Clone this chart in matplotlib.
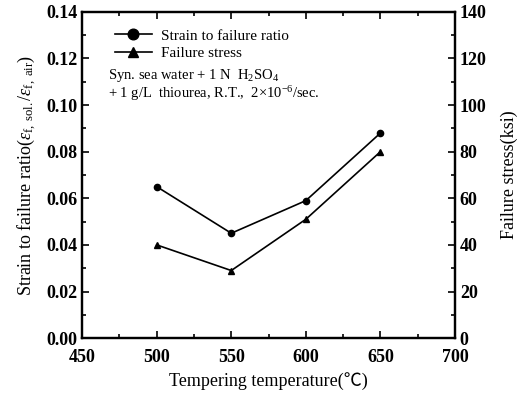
import matplotlib
matplotlib.use('Agg')
import matplotlib.pyplot as plt
from matplotlib.ticker import MultipleLocator

plt.rcParams['font.family'] = ['Liberation Serif', 'DejaVu Serif', 'DejaVu Sans']
plt.rcParams['mathtext.fontset'] = 'custom'
plt.rcParams['mathtext.rm'] = 'Liberation Serif'
plt.rcParams['mathtext.it'] = 'Liberation Serif:italic'

temps = [500, 550, 600, 650]
strain_ratio = [0.065, 0.045, 0.059, 0.088]
failure_stress = [40, 29, 51, 80]

fig = plt.figure(figsize=(5.23, 3.95), dpi=100)
ax = fig.add_axes([0.157, 0.144, 0.713, 0.826])
ax2 = ax.twinx()

l1, = ax.plot(temps, strain_ratio, color='black', lw=1.2, marker='o', ms=4.5)
l2, = ax2.plot(temps, failure_stress, color='black', lw=1.2, marker='^', ms=4.5)

ax.set_xlim(450, 700)
ax.set_ylim(0, 0.14)
ax2.set_ylim(0, 140)
ax.xaxis.set_major_locator(MultipleLocator(50))
ax.xaxis.set_minor_locator(MultipleLocator(25))
ax.yaxis.set_major_locator(MultipleLocator(0.02))
ax.yaxis.set_minor_locator(MultipleLocator(0.01))
ax2.yaxis.set_major_locator(MultipleLocator(20))
ax2.yaxis.set_minor_locator(MultipleLocator(10))
ax.yaxis.set_major_formatter(lambda v, p: '%.2f' % v)

for a in (ax, ax2):
    a.tick_params(which='both', direction='in', top=True, labelsize=13, width=1.2)
    a.tick_params(which='major', length=5)
    a.tick_params(which='minor', length=3)
    for s in a.spines.values():
        s.set_linewidth(1.6)
ax.tick_params(right=False, which='both')
ax.tick_params(axis='x', pad=8)
ax2.tick_params(left=False, which='both')
for lab in ax.get_xticklabels() + ax.get_yticklabels() + ax2.get_yticklabels():
    lab.set_fontweight('bold')

ax.set_xlabel('Tempering temperature(℃)', fontsize=13, labelpad=4,
              family=['Liberation Serif', 'Noto Sans CJK JP', 'DejaVu Sans'])
ax.set_ylabel(r'Strain to failure ratio($\varepsilon_{\rm f,\ sol.}/\varepsilon_{\rm f,\ air}$)',
              fontsize=13, labelpad=6)
ax2.set_ylabel('Failure stress(ksi)', fontsize=13, labelpad=10)

leg = ax.legend([l1, l2], ['Strain to failure ratio', 'Failure stress'],
                loc='upper left', bbox_to_anchor=(0.055, 0.985), frameon=False,
                fontsize=11, handlelength=2.4, handletextpad=0.6,
                borderpad=0.3, labelspacing=0.25, markerscale=1.7)
ax.text(0.07, 0.83, 'Syn. sea water + 1 N  H$_2$SO$_4$\n+ 1 g/L  thiourea, R.T.,  2×10$^{-6}$/sec.',
        transform=ax.transAxes, fontsize=10.5, va='top', linespacing=1.0)

fig.savefig('out.png', dpi=100)
